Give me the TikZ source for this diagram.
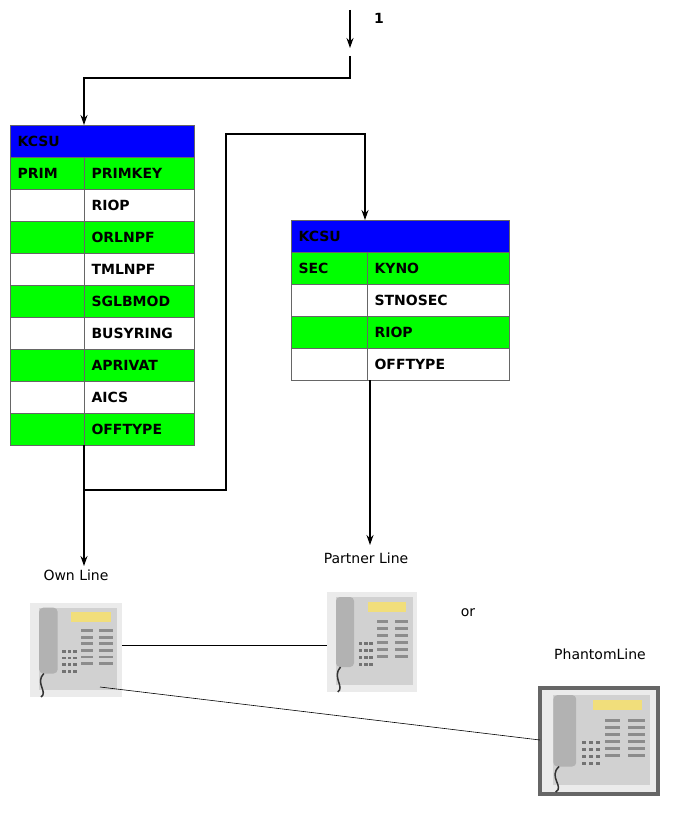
\documentclass[tikz,border=0pt]{standalone}
\usepackage{fontspec}
\setmainfont{DejaVu Sans}
\usetikzlibrary{arrows.meta}
\definecolor{hb}{RGB}{0,0,255}
\definecolor{hg}{RGB}{0,255,0}
\tikzset{
 cell/.style={draw=black!60,line width=0.5pt,minimum height=32pt,anchor=north west,inner sep=0pt},
 txt/.style={anchor=west,font=\bfseries\fontsize{14}{14}\selectfont},
 lbl/.style={font=\fontsize{14}{14}\selectfont},
 conn/.style={line width=1.2pt,-{Stealth[length=10pt,width=7pt]}},
}
\newcommand{\myphone}[5]{% name x y w h
 \begin{scope}[shift={(#2,#3)}]
 \node[minimum width=#4 pt,minimum height=#5 pt,inner sep=0,anchor=north west] (#1) at (0,0) {};
 \fill[black!8] (0,0) rectangle (#4,#5);
 \fill[black!18] (0.1*#4,0.05*#5) rectangle (0.95*#4,0.93*#5);
 \fill[black!30,rounded corners=4pt] (0.1*#4,0.05*#5) rectangle (0.3*#4,0.75*#5);
 \fill[yellow!60!brown!60] (0.45*#4,0.1*#5) rectangle (0.88*#4,0.2*#5);
 \foreach \i in {0,...,5}{\fill[black!45] (0.55*#4,0.28*#5+\i*0.07*#5) rectangle (0.68*#4,0.31*#5+\i*0.07*#5);
   \fill[black!45] (0.75*#4,0.28*#5+\i*0.07*#5) rectangle (0.9*#4,0.31*#5+\i*0.07*#5);}
 \foreach \i in {0,...,3}{\foreach \j in {0,1,2}{\fill[black!55] (0.35*#4+\j*0.06*#4,0.5*#5+\i*0.07*#5) rectangle (0.39*#4+\j*0.06*#4,0.53*#5+\i*0.07*#5);}}
 \draw[black!80,line width=1.5pt] (0.15*#4,0.75*#5) .. controls (0.05*#4,0.85*#5) and (0.2*#4,0.95*#5) .. (0.12*#4,1.0*#5);
 \end{scope}
}
\begin{document}
\begin{tikzpicture}[x=1pt,y=-1pt]
\useasboundingbox (0,0) rectangle (676,826);
\fill[white] (0,0) rectangle (676,826);
% table 1
\node[cell,fill=hb,minimum width=184pt] (k1) at (10,125) {};
\node[txt] at (14,141) {KCSU};
\fill[hg] (10,157) rectangle (194,189);
\draw[black!60] (10,157) rectangle (194,189) (84,157)--(84,189);
\node[txt] at (14,173) {PRIM};
\node[txt] at (88,173) {PRIMKEY};
\foreach \t/\c [count=\k] in {RIOP/white,ORLNPF/hg,TMLNPF/white,SGLBMOD/hg,BUSYRING/white,APRIVAT/hg,AICS/white,OFFTYPE/hg}{
 \fill[\c] (10,157+32*\k) rectangle (194,189+32*\k);
 \draw[black!60] (10,157+32*\k) rectangle (194,189+32*\k) (84,157+32*\k)--(84,189+32*\k);
 \node[txt] at (88,173+32*\k) {\t};}
\coordinate (t1b) at (84,445);
% table 2
\node[cell,fill=hb,minimum width=218pt] (k2) at (291,220) {};
\node[txt] at (295,236) {KCSU};
\fill[hg] (291,252) rectangle (509,284);
\draw[black!60] (291,252) rectangle (509,284) (367,252)--(367,284);
\node[txt] at (295,268) {SEC};\node[txt] at (371,268) {KYNO};
\foreach \t/\c [count=\k] in {STNOSEC/white,RIOP/hg,OFFTYPE/white}{
 \fill[\c] (291,252+32*\k) rectangle (509,284+32*\k);
 \draw[black!60] (291,252+32*\k) rectangle (509,284+32*\k) (367,252+32*\k)--(367,284+32*\k);
 \node[txt] at (371,268+32*\k) {\t};}
\coordinate (t2b) at (370,380);
% arrows
\coordinate (s) at (350,10);\coordinate (s2) at (350,48);
\draw[conn] (s)--(s2);
\node[font=\bfseries\fontsize{14}{14}\selectfont] (one) at (379,18) {1};
\draw[conn] (350,56)--(350,78)--(84,78)--(84,125);
\coordinate (own) at (84,566);
\draw[conn] (t1b)--(own);
\draw[conn] (84,490)--(226,490)--(226,134)--(365,134)--(365,220);
\coordinate (par) at (370,545);
\draw[conn] (t2b)--(par);
\node[lbl] (ol) at (76,575) {Own Line};
\node[lbl] (pl) at (366,558) {Partner Line};
\node[lbl] (or) at (468,613) {or};
\node[lbl] (phl) at (600,654) {PhantomLine};
% phones
\myphone{p1}{30}{603}{92}{94}
\myphone{p2}{327}{592}{90}{100}
\fill[black!60] (538,686) rectangle (660,796);
\myphone{p3}{542}{690}{114}{102}
\draw[line width=0.6pt] (122,645)--(327,645);
\draw[line width=0.6pt] (100,687)--(540,740);
\end{tikzpicture}
\end{document}
